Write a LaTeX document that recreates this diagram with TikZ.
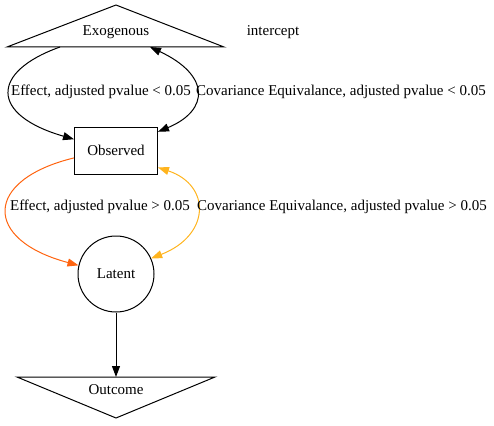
\documentclass[tikz,border=0pt]{standalone}
\usepackage{fontspec}
\setmainfont{Liberation Serif}
\usepackage{xcolor}
\usetikzlibrary{arrows.meta}

\definecolor{effectorange}{HTML}{FF6410}
\definecolor{covyellow}{HTML}{FFB41E}

\begin{document}
\begin{tikzpicture}[x=1pt, y=-1pt, line width=1pt, >={Triangle[length=11pt,width=8pt]}]

    \tikzstyle{every node}=[font=\fontsize{15}{17}\selectfont, text=black, inner sep=0pt]
    \tikzstyle{obsbox}=[draw=black, minimum width=83pt, minimum height=47pt]
    \tikzstyle{latcircle}=[draw=black, circle, minimum size=76pt]

    \useasboundingbox (0,0) rectangle (494,425);

    % triangles
    \draw (116,5) -- (224,47) -- (7,47) -- cycle;
    \draw (17,377) -- (215,377) -- (116,418) -- cycle;

    \node (EXOGENOUS) at (116,32) {Exogenous};
    \node (INTERCEPT) at (273,32) {intercept};
    \node[obsbox] (OBSERVED) at (116,150.5) {Observed};
    \node[latcircle] (LATENT) at (116,274) {Latent};
    \node (OUTCOME) at (116,390) {Outcome};

    \coordinate (EXOL) at (60,47);
    \coordinate (EXOR) at (150,47);
    \coordinate (OUTTOP) at (116,377);

    \draw[->] (EXOL) .. controls (-10,72) and (-10,115) .. (OBSERVED.165);
    \draw[<->] (EXOR) .. controls (210,75) and (210,110) .. (OBSERVED.24);
    \draw[->, effectorange] (OBSERVED.190) .. controls (-17,180) and (-17,240) .. (LATENT.167);
    \draw[<->, covyellow] (OBSERVED.338) .. controls (211,185) and (211,235) .. (LATENT.24);
    \draw[->] (LATENT.south) -- (OUTTOP);

    \node (EFFLOW) at (101,92) {Effect, adjusted pvalue < 0.05};
    \node (COVLOW) at (341,92) {Covariance Equivalance, adjusted pvalue < 0.05};
    \node (EFFHIGH) at (100,207) {Effect, adjusted pvalue > 0.05};
    \node (COVHIGH) at (342,207) {Covariance Equivalance, adjusted pvalue > 0.05};

\end{tikzpicture}
\end{document}
